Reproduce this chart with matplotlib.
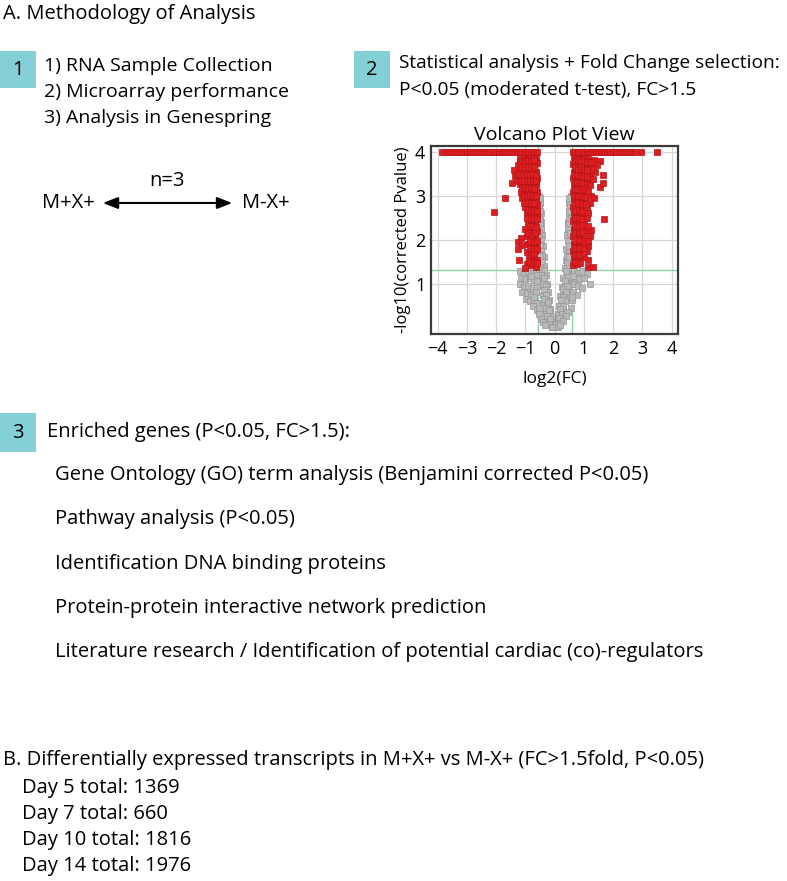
import matplotlib.pyplot as plt
from matplotlib.patches import Rectangle

plt.rcParams['font.family'] = ['Open Sans', 'DejaVu Sans']

# ---------- Text content ----------
title_a = "A. Methodology of Analysis"
step1_lines = ["1) RNA Sample Collection", "2) Microarray performance", "3) Analysis in Genespring"]
step2_lines = ["Statistical analysis + Fold Change selection:", "P<0.05 (moderated t-test), FC>1.5"]
step3_head = "Enriched genes (P<0.05, FC>1.5):"
step3_items = ["Gene Ontology (GO) term analysis (Benjamini corrected P<0.05)",
               "Pathway analysis (P<0.05)",
               "Identification DNA binding proteins",
               "Protein-protein interactive network prediction",
               "Literature research / Identification of potential cardiac (co)-regulators"]
title_b = "B. Differentially expressed transcripts in M+X+ vs M-X+ (FC>1.5fold, P<0.05)"
day_labels = ["Day 5", "Day 7", "Day 10", "Day 14"]
day_totals = [1369, 660, 1816, 1976]

# ---------- Volcano data (log2 FC, -log10 corrected P) ----------
# saturated row at -log10 p = 4
top_left_x = [-3.85, -3.7, -3.6, -3.5, -3.4, -3.3, -3.2, -3.1, -3.0, -2.9, -2.8, -2.7, -2.6,
              -2.5, -2.4, -2.3, -2.2, -2.1, -2.0, -1.9, -1.8, -1.7, -1.6, -1.5, -1.4, -1.3,
              -1.2, -1.1, -1.0, -0.9, -0.8, -0.7, -0.62]
top_right_x = [0.62, 0.7, 0.8, 0.9, 1.0, 1.1, 1.2, 1.3, 1.4, 1.5, 1.6, 1.7, 1.8, 1.9, 2.0,
               2.1, 2.2, 2.3, 2.4, 2.5, 2.6, 2.75, 2.95, 3.5]

red_left = [(-1.2, 3.85), (-1.05, 3.9), (-0.95, 3.85), (-0.85, 3.9), (-0.75, 3.88), (-0.65, 3.9),
            (-1.25, 3.7), (-1.1, 3.72), (-1.0, 3.7), (-0.9, 3.75), (-0.8, 3.7), (-0.7, 3.72), (-0.62, 3.75),
            (-1.3, 3.55), (-1.15, 3.58), (-1.05, 3.55), (-0.95, 3.6), (-0.85, 3.55), (-0.75, 3.58), (-0.65, 3.55),
            (-1.35, 3.45), (-1.25, 3.4), (-1.1, 3.42), (-1.0, 3.4), (-0.9, 3.45), (-0.8, 3.4), (-0.7, 3.42), (-0.62, 3.4),
            (-1.2, 3.28), (-1.05, 3.25), (-0.95, 3.28), (-0.85, 3.25), (-0.75, 3.22), (-0.65, 3.25),
            (-1.15, 3.1), (-1.0, 3.12), (-0.9, 3.08), (-0.8, 3.1), (-0.7, 3.05), (-0.62, 3.1),
            (-1.1, 2.95), (-0.95, 2.9), (-0.85, 2.95), (-0.75, 2.9), (-0.65, 2.92),
            (-1.0, 2.75), (-0.88, 2.78), (-0.78, 2.72), (-0.68, 2.75), (-0.6, 2.8),
            (-0.95, 2.6), (-0.85, 2.55), (-0.72, 2.6), (-0.62, 2.58),
            (-0.9, 2.4), (-0.8, 2.42), (-0.68, 2.38),
            (-1.0, 2.25), (-0.85, 2.2), (-0.72, 2.25), (-0.62, 2.2),
            (-1.15, 2.05), (-0.95, 2.08), (-0.8, 2.02), (-0.68, 2.05),
            (-1.25, 1.95), (-1.1, 1.88), (-0.9, 1.9), (-0.75, 1.85), (-0.65, 1.9),
            (-1.25, 1.78), (-0.95, 1.72), (-0.8, 1.7), (-0.68, 1.75),
            (-0.88, 1.58), (-0.72, 1.6), (-0.62, 1.55),
            (-1.22, 1.55), (-0.95, 1.45), (-0.78, 1.42), (-0.65, 1.38), (-1.0, 1.35),
            (-1.7, 2.95), (-2.07, 2.64), (-1.45, 3.3), (-1.4, 3.6), (-1.2, 3.8),
            # denser core
            (-1.1, 3.8), (-1.0, 3.78), (-0.9, 3.82), (-0.8, 3.8), (-0.7, 3.82),
            (-1.2, 3.62), (-1.1, 3.65), (-1.0, 3.62), (-0.9, 3.65), (-0.8, 3.62), (-0.7, 3.65),
            (-1.25, 3.5), (-1.15, 3.48), (-1.05, 3.48), (-0.95, 3.5), (-0.85, 3.48), (-0.75, 3.5), (-0.65, 3.48),
            (-1.3, 3.35), (-1.15, 3.35), (-1.05, 3.33), (-0.95, 3.35), (-0.85, 3.33), (-0.75, 3.33), (-0.65, 3.33),
            (-1.1, 3.18), (-1.0, 3.2), (-0.9, 3.18), (-0.8, 3.18), (-0.7, 3.16),
            (-1.05, 3.02), (-0.95, 3.0), (-0.85, 3.02), (-0.75, 3.0), (-0.65, 3.0),
            (-1.05, 2.85), (-0.92, 2.83), (-0.82, 2.85), (-0.7, 2.84),
            (-0.9, 2.68), (-0.8, 2.66), (-0.7, 2.68), (-0.6, 2.66),
            (-0.95, 2.5), (-0.82, 2.48), (-0.72, 2.5), (-0.62, 2.48),
            (-0.85, 2.32), (-0.75, 2.32), (-0.65, 2.3),
            (-0.9, 2.15), (-0.78, 2.12), (-0.68, 2.15),
            (-0.85, 1.98), (-0.72, 1.96), (-0.62, 1.98),
            (-0.85, 1.82), (-0.72, 1.8), (-0.62, 1.8),
            (-0.82, 1.65), (-0.7, 1.68),
            (-0.85, 1.5), (-0.7, 1.5), (-0.6, 1.46)]

red_right = [(0.65, 3.9), (0.75, 3.88), (0.85, 3.9), (0.95, 3.85), (1.05, 3.88), (1.15, 3.85), (1.35, 3.82), (1.55, 3.8),
             (0.62, 3.72), (0.72, 3.75), (0.82, 3.7), (0.92, 3.72), (1.02, 3.68), (1.12, 3.7), (1.25, 3.65), (1.45, 3.7),
             (0.65, 3.55), (0.75, 3.58), (0.85, 3.55), (0.95, 3.52), (1.05, 3.55), (1.2, 3.5), (1.38, 3.55), (1.65, 3.48),
             (0.62, 3.4), (0.72, 3.42), (0.82, 3.38), (0.92, 3.4), (1.02, 3.38), (1.15, 3.35), (1.3, 3.38),
             (0.65, 3.25), (0.75, 3.22), (0.85, 3.25), (0.95, 3.2), (1.08, 3.22), (1.55, 3.2), (1.65, 3.3),
             (0.62, 3.08), (0.72, 3.1), (0.82, 3.05), (0.95, 3.08), (1.1, 3.05), (1.25, 3.0),
             (0.65, 2.92), (0.75, 2.9), (0.85, 2.95), (1.0, 2.88), (1.35, 2.95), (1.2, 2.85),
             (0.62, 2.75), (0.72, 2.72), (0.85, 2.78), (1.0, 2.7), (1.12, 2.75),
             (0.65, 2.58), (0.78, 2.6), (0.9, 2.55), (1.05, 2.6), (1.7, 2.47),
             (0.62, 2.42), (0.75, 2.4), (0.88, 2.38), (1.0, 2.45),
             (0.65, 2.25), (0.78, 2.22), (0.92, 2.25), (1.1, 2.2), (1.25, 2.22),
             (0.62, 2.08), (0.75, 2.05), (0.88, 2.1), (1.05, 2.05), (1.2, 2.08),
             (0.65, 1.9), (0.8, 1.92), (0.95, 1.88), (1.15, 1.85),
             (0.62, 1.75), (0.75, 1.72), (0.9, 1.7), (1.1, 1.75),
             (0.65, 1.58), (0.8, 1.55), (0.95, 1.6),
             (0.62, 1.42), (0.78, 1.45), (1.15, 1.38), (1.3, 1.37),
             # denser core
             (0.7, 3.8), (0.8, 3.82), (0.9, 3.78), (1.0, 3.8), (1.1, 3.78), (1.25, 3.78),
             (0.7, 3.65), (0.8, 3.62), (0.9, 3.65), (1.0, 3.62), (1.1, 3.6), (1.3, 3.62),
             (0.7, 3.48), (0.8, 3.48), (0.9, 3.46), (1.0, 3.46), (1.1, 3.44),
             (0.68, 3.32), (0.78, 3.32), (0.88, 3.3), (0.98, 3.3), (1.1, 3.28), (1.2, 3.25),
             (0.68, 3.16), (0.78, 3.16), (0.9, 3.14), (1.0, 3.15), (1.15, 3.12),
             (0.7, 3.0), (0.8, 2.99), (0.92, 3.0), (1.05, 2.97),
             (0.68, 2.83), (0.8, 2.84), (0.92, 2.82), (1.08, 2.82),
             (0.7, 2.66), (0.82, 2.67), (0.95, 2.65), (1.15, 2.62),
             (0.7, 2.5), (0.82, 2.5), (0.95, 2.48), (1.1, 2.5),
             (0.7, 2.32), (0.82, 2.3), (0.95, 2.33), (1.15, 2.32),
             (0.7, 2.15), (0.82, 2.15), (0.95, 2.17),
             (0.7, 1.98), (0.85, 2.0), (1.0, 1.97), (1.15, 1.98),
             (0.7, 1.82), (0.85, 1.82), (1.0, 1.8),
             (0.7, 1.65), (0.85, 1.65), (1.0, 1.68), (1.15, 1.55),
             (0.7, 1.5), (0.88, 1.48)]

gray_pts = [(-0.55, 3.0), (-0.5, 2.85), (-0.55, 2.7), (-0.48, 2.6), (-0.55, 2.5), (-0.45, 2.4), (-0.55, 2.3),
            (-0.48, 2.2), (-0.42, 2.1), (-0.55, 2.05), (-0.5, 1.95), (-0.4, 1.85), (-0.55, 1.8), (-0.45, 1.7),
            (-0.38, 1.6), (-0.55, 1.55), (-0.48, 1.45), (-0.35, 1.4), (-0.55, 1.3), (-0.42, 1.25), (-0.3, 1.2),
            (-0.5, 1.12), (-0.38, 1.05), (-0.27, 1.0), (-0.45, 0.95), (-0.33, 0.88), (-0.22, 0.8), (-0.4, 0.75),
            (-0.3, 0.68), (-0.18, 0.62), (-0.35, 0.55), (-0.25, 0.48), (-0.15, 0.42), (-0.3, 0.35), (-0.2, 0.3),
            (-0.1, 0.25), (-0.22, 0.18), (-0.12, 0.12), (-0.05, 0.05),
            (-0.5, 2.95), (-0.52, 2.78), (-0.5, 2.65), (-0.5, 2.45), (-0.5, 2.35), (-0.45, 2.25), (-0.52, 2.15),
            (-0.45, 2.0), (-0.5, 1.88), (-0.48, 1.75), (-0.42, 1.65), (-0.5, 1.62), (-0.42, 1.5), (-0.5, 1.38),
            (-0.38, 1.32), (-0.47, 1.2), (-0.35, 1.12), (-0.42, 1.0), (-0.3, 0.95), (-0.38, 0.85), (-0.28, 0.75),
            (-0.35, 0.65), (-0.22, 0.58), (-0.28, 0.45), (-0.2, 0.4), (-0.25, 0.25), (-0.15, 0.2), (-0.18, 0.08),
            (-0.1, 0.0),
            (0.55, 3.0), (0.5, 2.85), (0.55, 2.7), (0.48, 2.6), (0.55, 2.5), (0.45, 2.4), (0.55, 2.3), (0.48, 2.2),
            (0.42, 2.1), (0.55, 2.0), (0.5, 1.9), (0.4, 1.8), (0.55, 1.75), (0.45, 1.65), (0.38, 1.55), (0.55, 1.5),
            (0.46, 1.4), (0.34, 1.35), (0.55, 1.28), (0.42, 1.2), (0.3, 1.12), (0.5, 1.05), (0.38, 0.98),
            (0.26, 0.92), (0.45, 0.85), (0.32, 0.78), (0.2, 0.72), (0.4, 0.65), (0.28, 0.58), (0.16, 0.5),
            (0.3, 0.42), (0.2, 0.35), (0.1, 0.3), (0.22, 0.22), (0.12, 0.15), (0.05, 0.08), (0.0, 0.0),
            (0.08, 0.02), (-0.08, 0.02),
            (0.5, 2.95), (0.52, 2.78), (0.5, 2.65), (0.5, 2.45), (0.5, 2.35), (0.45, 2.25), (0.52, 2.15),
            (0.45, 1.98), (0.5, 1.85), (0.48, 1.72), (0.42, 1.62), (0.5, 1.6), (0.42, 1.48), (0.5, 1.35),
            (0.38, 1.28), (0.47, 1.15), (0.35, 1.05), (0.42, 0.95), (0.3, 0.88), (0.38, 0.8), (0.28, 0.7),
            (0.35, 0.6), (0.22, 0.62), (0.28, 0.5), (0.18, 0.42), (0.25, 0.3), (0.15, 0.22), (0.18, 0.1),
            (0.1, 0.0),
            (-1.2, 1.28), (-1.05, 1.25), (-0.9, 1.28), (-0.75, 1.25), (-0.65, 1.2), (-1.15, 1.12), (-1.0, 1.1),
            (-0.85, 1.12), (-0.7, 1.08), (-1.2, 0.98), (-1.05, 0.92), (-0.9, 0.95), (-0.75, 0.9), (-0.62, 0.95),
            (-1.1, 0.8), (-0.95, 0.78), (-0.8, 0.75), (-0.65, 0.8), (-0.98, 0.65), (-0.85, 0.6), (-0.7, 0.62),
            (-0.6, 0.55), (-0.75, 0.48), (-0.62, 0.4), (-0.55, 0.3), (-0.48, 0.2), (-0.4, 0.12), (-0.32, 0.05),
            (-0.8, 1.18), (-0.62, 1.05), (-0.7, 0.7), (-0.55, 0.45),
            (0.65, 1.28), (0.8, 1.25), (0.95, 1.28), (1.1, 1.22), (0.7, 1.12), (0.85, 1.1), (1.0, 1.12),
            (1.2, 1.0), (0.65, 0.98), (0.8, 0.95), (0.95, 0.9), (0.62, 0.8), (0.75, 0.75), (0.6, 0.62),
            (0.55, 0.45), (0.45, 0.35), (0.4, 0.25), (0.3, 0.15), (0.2, 0.05), (0.62, 1.18), (0.58, 0.7)]

fc_cut = 0.585   # log2(1.5)
p_cut = 1.3      # -log10(0.05)

teal = '#84d0d6'
fs = 14.5

# ---------- Figure ----------
fig = plt.figure(figsize=(7.87, 8.81), dpi=100)
ax0 = fig.add_axes([0, 0, 1, 1])
ax0.set_xlim(0, 787)
ax0.set_ylim(881, 0)
ax0.axis('off')

ax0.text(3, 14, title_a, fontsize=fs, va='center', ha='left')

# step 1
ax0.add_patch(Rectangle((0, 51), 36, 37, color=teal, lw=0))
ax0.text(18, 70, "1", fontsize=fs, va='center', ha='center')
for i, s in enumerate(step1_lines):
    ax0.text(44, 66 + 26 * i, s, fontsize=14, va='center', ha='left')
ax0.text(167, 181, "n=3", fontsize=fs, va='center', ha='center')
ax0.annotate("", xy=(235, 203), xytext=(100, 203),
             arrowprops=dict(arrowstyle='<|-|>,head_length=0.9,head_width=0.35', color='black', lw=1.5))
ax0.text(42, 203, "M+X+", fontsize=fs, va='center', ha='left')
ax0.text(242, 203, "M-X+", fontsize=fs, va='center', ha='left')

# step 2
ax0.add_patch(Rectangle((354, 51), 36, 37, color=teal, lw=0))
ax0.text(372, 70, "2", fontsize=fs, va='center', ha='center')
for i, s in enumerate(step2_lines):
    ax0.text(399, 63 + 27 * i, s, fontsize=13.8, va='center', ha='left')

# step 3
ax0.add_patch(Rectangle((0, 413), 36, 39, color=teal, lw=0))
ax0.text(18, 433, "3", fontsize=fs, va='center', ha='center')
ax0.text(47, 432, step3_head, fontsize=fs, va='center', ha='left')
for i, s in enumerate(step3_items):
    ax0.text(55, 475 + 44.3 * i, s, fontsize=fs, va='center', ha='left')

# part B
ax0.text(3, 760, title_b, fontsize=fs, va='center', ha='left')
for i, (d, t) in enumerate(zip(day_labels, day_totals)):
    ax0.text(22, 788 + 26 * i, f"{d} total: {t}", fontsize=fs, va='center', ha='left')

# ---------- Volcano plot ----------
ax = fig.add_axes([431 / 787, 1 - 334 / 881, (678 - 431) / 787, (334 - 146) / 881])
ax.set_xlim(-4.23, 4.22)
ax.set_ylim(-0.15, 4.14)
ax.set_xticks(range(-4, 5))
ax.set_yticks([1, 2, 3, 4])
ax.tick_params(labelsize=13, length=0, pad=4)
ax.grid(True, color='#d8d8d8', lw=0.9)
ax.set_axisbelow(True)
for sp in ax.spines.values():
    sp.set_color('#3a3a3a')
    sp.set_linewidth(1.6)

ax.axvline(-fc_cut, color='#8fd3a5', lw=1.0)
ax.axvline(fc_cut, color='#8fd3a5', lw=1.0)
ax.axhline(p_cut, color='#8fd3a5', lw=1.0)

gx = [p[0] for p in gray_pts]
gy = [p[1] for p in gray_pts]
ax.scatter(gx, gy, marker='s', s=15, facecolor='#b8b8b8', edgecolor='#969696', lw=0.5, zorder=3)

rx = [p[0] for p in red_left + red_right] + top_left_x + top_right_x
ry = [p[1] for p in red_left + red_right] + [4] * (len(top_left_x) + len(top_right_x))
ax.scatter(rx, ry, marker='s', s=15, facecolor='#dc1e22', edgecolor='#b41418', lw=0.5, zorder=4)

ax.set_title("Volcano Plot View", fontsize=14, pad=4)
ax.set_xlabel("log2(FC)", fontsize=12.5, labelpad=10)
ax.set_ylabel("-log10(corrected Pvalue)", fontsize=12, labelpad=3)

fig.savefig("out.png", dpi=100)
